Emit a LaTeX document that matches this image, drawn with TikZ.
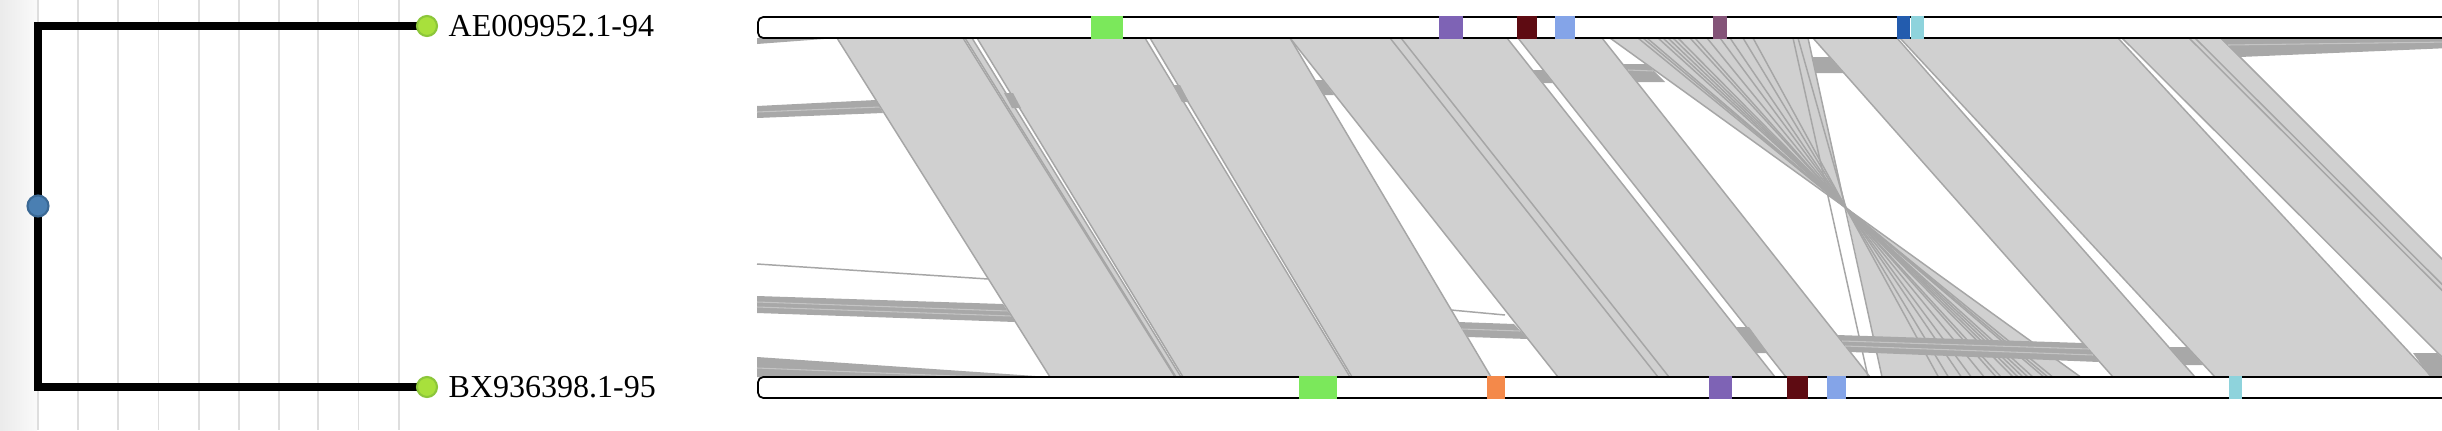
\documentclass[tikz,border=0pt]{standalone}
\usepackage{fontspec}
\setmainfont{Liberation Serif}
\pgfdeclarelayer{bg}
\pgfdeclarelayer{tree}
\pgfsetlayers{bg,tree,main}
\definecolor{bandfill}{HTML}{D0D0D0}
\definecolor{bandline}{HTML}{A6A6A6}
\definecolor{bundlefill}{HTML}{A8A8A8}
\definecolor{bundlestreak}{HTML}{C4C4C4}
\definecolor{gridc}{HTML}{DEDEDE}
\definecolor{leaffill}{HTML}{A8E03C}
\definecolor{leafdraw}{HTML}{8CC63A}
\definecolor{rootfill}{HTML}{4A7FB2}
\definecolor{rootdraw}{HTML}{3A6894}
\definecolor{cgreen}{HTML}{7BE85B}
\definecolor{cpurple}{HTML}{7E63B5}
\definecolor{cdarkred}{HTML}{5E0B12}
\definecolor{clightblue}{HTML}{84A4E8}
\definecolor{cmauve}{HTML}{845478}
\definecolor{cdarkblue}{HTML}{235CAE}
\definecolor{ccyan}{HTML}{8ED3DC}
\definecolor{corange}{HTML}{F4894A}
\def\mybands{837/963/1175/1050, 965/972/1181/1176, 977/1145/1350/1183,
  1150/1290/1491/1352, 1290/1401/1669/1558, 1390/1507/1775/1658,
  1518/1602/1870/1786, 1813/1897/2195/2113, 1900/2118/2432/2215,
  2122/2195/2535/2462, 2189/2221/2560/2529}
\begin{document}
\begin{tikzpicture}[x=0.01cm,y=-0.01cm,
  bandfillst/.style={fill=bandfill},
  bandedge/.style={draw=bandline,line width=0.42pt},
  bundle/.style={fill=bundlefill},
  streak/.style={draw=bundlestreak,line width=0.3pt},
  treeline/.style={line width=2pt,draw=black},
  leafnode/.style={circle,fill=leaffill,draw=leafdraw,line width=0.6pt,minimum size=0.2cm,inner sep=0pt},
  rootnode/.style={circle,fill=rootfill,draw=rootdraw,line width=0.6pt,minimum size=0.21cm,inner sep=0pt},
  lbl/.style={anchor=base west,inner sep=0pt,font=\fontsize{9.1pt}{10pt}\selectfont},
  bar/.style={draw=black,line width=0.5pt,fill=white,rounded corners=1.5pt},
  gridline/.style={draw=gridc,line width=0.55pt}]
\useasboundingbox (0,0) rectangle (2442,430);
\begin{pgfonlayer}{bg}
  \fill[white] (0,0) rectangle (2442,430);
  \shade[left color=black!8, right color=black!2] (0,0) rectangle (37,430);
  \foreach \gx in {38,78.1,118.3,158.5,198.7,238.8,279,318.3,358.5,398.7}
    \draw[gridline] (\gx,0) -- (\gx,430);
\end{pgfonlayer}
% tree
\node[rootnode] (root) at (38,206) {};
\node[leafnode] (leafA) at (427,26) {};
\node[leafnode] (leafB) at (427,387) {};
\begin{pgfonlayer}{tree}
  \draw[treeline] (root.center) |- (leafA.center);
  \draw[treeline] (root.center) |- (leafB.center);
\end{pgfonlayer}
\node[lbl] (labA) at (448,36) {AE009952.1-94};
\node[lbl] (labB) at (448,397) {BX936398.1-95};
% synteny region
\begin{scope}
\clip (740,0) rectangle (2442,430);
% left horizontal bundles
\fill[bundle] (757,38) -- (837,38) -- (757,44) -- cycle;
\fill[bundle] (757,106) -- (876,100) -- (883,113) -- (757,118) -- cycle;
\draw[streak] (757,112) -- (880,107);
\draw[bandedge] (757,264) -- (988,279);
\fill[bundle] (757,296) -- (1003,304) -- (1015,322) -- (757,313) -- cycle;
\draw[streak] (757,302) -- (1008,311);
\draw[streak] (757,307) -- (1011,316);
\fill[bundle] (757,357) -- (1050,377) -- (757,377) -- cycle;
\draw[streak] (757,368) -- (980,377);
% band fills
\foreach \a/\b/\c/\d in \mybands {
  \fill[bandfillst] (\a,38) -- (\b,38) -- (\c,377) -- (\d,377) -- cycle;
}
% crossing fan fills
\fill[bandfillst] (1610,38) -- (1808,38) -- (1846,208) -- cycle;
\fill[bandfillst] (1846,208) -- (1882,377) -- (2081,377) -- cycle;
% band edges
\foreach \a/\b/\c/\d in \mybands {
  \draw[bandedge] (\a,38) -- (\d,377) (\b,38) -- (\c,377);
}
\foreach \t in {1610,1638,1643,1647,1658,1663,1668,1673,1678,1690,1695,1707,1720,1730,1743,1753}
  \draw[bandedge] (\t,38) -- ({1846+(1846-\t)*0.994},377);
\draw[bandedge] (1793,38) -- (1868,377);
\draw[bandedge] (1798,38) -- (1846,208);
\draw[bandedge] (1808,38) -- (1882,377);
% small bundles in gaps
\fill[bundle] (1004,93) -- (1013,93) -- (1021,108) -- (1012,108) -- cycle;
\fill[bundle] (1173,85) -- (1180,85) -- (1189,102) -- (1182,102) -- cycle;
\fill[bundle] (1315,80) -- (1323,80) -- (1334,95) -- (1324,95) -- cycle;
\draw[bandedge] (1451,310) -- (1505,315);
\fill[bundle] (1458,322) -- (1514,324) -- (1528,339) -- (1468,337) -- cycle;
\draw[streak] (1462,329) -- (1520,331);
\fill[bundle] (1532,70) -- (1543,70) -- (1553,83) -- (1542,83) -- cycle;
\fill[bundle] (1736,327) -- (1749,327) -- (1768,353) -- (1756,353) -- cycle;
\fill[bundle] (1622,64) -- (1647,64) -- (1665,82) -- (1637,82) -- cycle;
\draw[streak] (1628,70) -- (1653,71);
\fill[bundle] (1812,57) -- (1830,57) -- (1844,73) -- (1816,73) -- cycle;
\fill[bundle] (1837,335) -- (2083,343) -- (2099,362) -- (1850,352) -- cycle;
\draw[streak] (1842,341) -- (2089,349);
\draw[streak] (1845,346) -- (2093,355);
\fill[bundle] (2169,347) -- (2187,347) -- (2203,365) -- (2185,365) -- cycle;
\fill[bundle] (2413,353) -- (2437,353) -- (2461,377) -- (2430,377) -- cycle;
\fill[bundle] (2220,38) -- (2450,38) -- (2450,48) -- (2240,57) -- cycle;
\draw[streak] (2228,45) -- (2450,42);
% genome bars
\draw[bar] (758,17) rectangle (2480,38);
\draw[bar] (758,377) rectangle (2480,398);
\foreach \xa/\xb/\cc in {1091/1123/cgreen, 1439/1463/cpurple, 1517/1537/cdarkred,
  1555/1575/clightblue, 1713/1727/cmauve, 1897/1910/cdarkblue, 1911/1924/ccyan}
  \fill[\cc] (\xa,16.2) rectangle (\xb,38.8);
\foreach \xa/\xb/\cc in {1299/1337/cgreen, 1487/1505/corange, 1709/1732/cpurple,
  1787/1808/cdarkred, 1827/1846/clightblue, 2229/2242/ccyan}
  \fill[\cc] (\xa,376.2) rectangle (\xb,398.8);
\end{scope}
\end{tikzpicture}
\end{document}
